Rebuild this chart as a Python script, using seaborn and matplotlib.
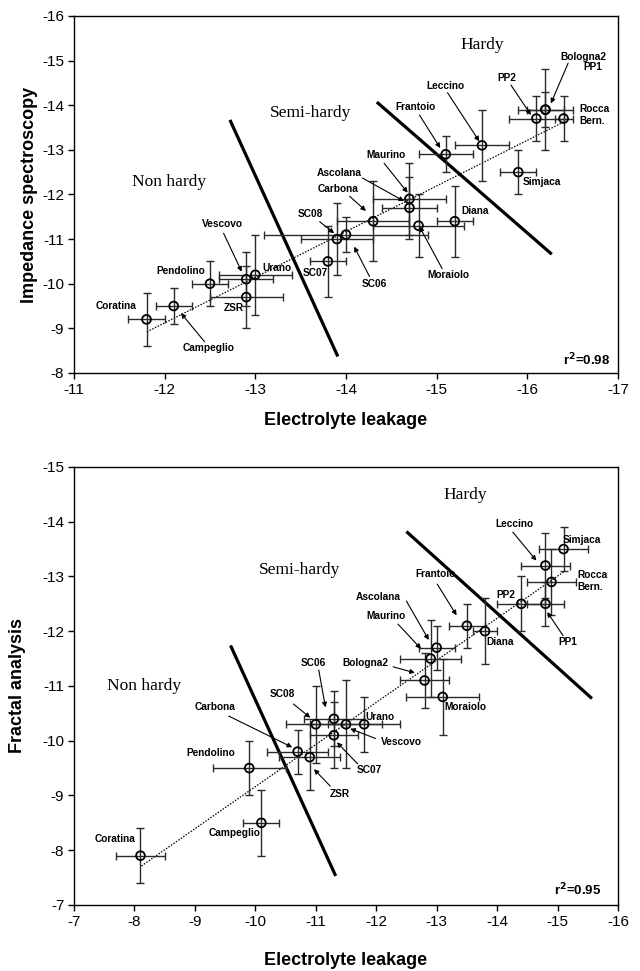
import numpy as np
import pandas as pd
import matplotlib
matplotlib.use("Agg")
import matplotlib.pyplot as plt
import seaborn as sns

# ---------------- data: top panel (Impedance spectroscopy vs electrolyte leakage)
top_names = ["Coratina", "Campeglio", "Pendolino", "Vescovo", "ZSR", "Urano", "SC07", "SC08",
             "SC06", "Carbona", "Ascolana", "Maurino", "Moraiolo", "Diana", "Frantoio",
             "Leccino", "Simjaca", "PP2", "PP1", "Bologna2", "Rocca Bern."]
top_el = [-11.8, -12.1, -12.5, -12.9, -12.9, -13.0, -13.8, -13.9, -14.0, -14.3, -14.7, -14.7,
          -14.8, -15.2, -15.1, -15.5, -15.9, -16.1, -16.2, -16.2, -16.4]
top_is = [-9.2, -9.5, -10.0, -10.1, -9.7, -10.2, -10.5, -11.0, -11.1, -11.4, -11.9, -11.7,
          -11.3, -11.4, -12.9, -13.1, -12.5, -13.7, -13.9, -13.9, -13.7]
top_el_err = [0.2, 0.2, 0.2, 0.3, 0.4, 0.4, 0.2, 0.4, 0.9, 0.4, 0.4, 0.3, 0.5, 0.2, 0.3, 0.3,
              0.2, 0.3, 0.2, 0.3, 0.1]
top_is_err = [0.6, 0.4, 0.5, 0.6, 0.7, 0.9, 0.8, 0.8, 0.4, 0.9, 0.8, 0.7, 0.7, 0.8, 0.4, 0.8,
              0.5, 0.5, 0.9, 0.4, 0.5]
top_r2 = "0.98"

# ---------------- data: bottom panel (Fractal analysis vs electrolyte leakage)
bot_names = ["Coratina", "Campeglio", "Pendolino", "Carbona", "ZSR", "SC08", "SC06", "SC07",
             "Vescovo", "Urano", "Bologna2", "Moraiolo", "Maurino", "Ascolana", "Frantoio",
             "Diana", "PP2", "PP1", "Leccino", "Rocca Bern.", "Simjaca"]
bot_el = [-8.1, -10.1, -9.9, -10.7, -10.9, -11.0, -11.3, -11.3, -11.5, -11.8, -12.8, -13.1,
          -12.9, -13.0, -13.5, -13.8, -14.4, -14.8, -14.8, -14.9, -15.1]
bot_fa = [-7.9, -8.5, -9.5, -9.8, -9.7, -10.3, -10.4, -10.1, -10.3, -10.3, -11.1, -10.8,
          -11.5, -11.7, -12.1, -12.0, -12.5, -12.5, -13.2, -12.9, -13.5]
bot_el_err = [0.4, 0.3, 0.6, 0.5, 0.5, 0.5, 0.5, 0.4, 0.6, 0.6, 0.4, 0.6, 0.5, 0.3, 0.3, 0.2,
              0.4, 0.3, 0.4, 0.4, 0.4]
bot_fa_err = [0.5, 0.6, 0.5, 0.4, 0.6, 0.7, 0.5, 0.6, 0.8, 0.5, 0.5, 0.7, 0.7, 0.4, 0.4, 0.6,
              0.5, 0.4, 0.6, 0.6, 0.4]
bot_r2 = "0.95"

# ---------------- annotations (label position, arrow tail, arrow head)
top_labels = {
    "Bologna2": (-16.62, -15.09), "PP1": (-16.72, -14.86), "PP2": (-15.77, -14.62),
    "Leccino": (-15.10, -14.44), "Frantoio": (-14.77, -13.95), "Simjaca": (-16.16, -12.28),
    "Maurino": (-14.44, -12.88), "Ascolana": (-13.93, -12.49), "Carbona": (-13.91, -12.12),
    "SC08": (-13.61, -11.57), "Diana": (-15.42, -11.63), "Vescovo": (-12.64, -11.33),
    "Urano": (-13.24, -10.36), "Pendolino": (-12.18, -10.29), "SC07": (-13.66, -10.23),
    "SC06": (-14.31, -9.99), "Moraiolo": (-15.13, -10.19), "ZSR": (-12.76, -9.45),
    "Coratina": (-11.46, -9.50), "Campeglio": (-12.48, -8.55),
}
top_rocca = (-16.57, -13.79)
top_arrows = {
    "Bologna2": ((-16.45, -14.94), (-16.26, -14.04)),
    "PP2": ((-15.82, -14.45), (-16.04, -13.78)),
    "Leccino": ((-15.12, -14.28), (-15.47, -13.19)),
    "Frantoio": ((-14.81, -13.78), (-15.04, -13.04)),
    "Maurino": ((-14.42, -12.70), (-14.68, -12.04)),
    "Ascolana": ((-14.18, -12.37), (-14.64, -11.85)),
    "Carbona": ((-14.04, -11.96), (-14.22, -11.63)),
    "SC08": ((-13.71, -11.39), (-13.87, -11.13)),
    "SC06": ((-14.26, -10.16), (-14.09, -10.83)),
    "Moraiolo": ((-15.06, -10.34), (-14.81, -11.28)),
    "Vescovo": ((-12.65, -11.13), (-12.85, -10.27)),
    "Campeglio": ((-12.44, -8.70), (-12.18, -9.34)),
}
top_regions = {"Hardy": (-15.5, -15.35), "Semi-hardy": (-13.61, -13.82), "Non hardy": (-12.05, -12.28)}
top_bounds = [((-12.72, -13.67), (-13.91, -8.37)), ((-14.34, -14.07), (-16.27, -10.66))]
top_r2_pos = (-16.65, -8.29)

bot_labels = {
    "Leccino": (-14.29, -13.95), "Simjaca": (-15.41, -13.67), "PP2": (-14.14, -12.66),
    "PP1": (-15.17, -11.80), "Diana": (-14.05, -11.80), "Frantoio": (-12.98, -13.05),
    "Ascolana": (-12.03, -12.63), "Maurino": (-12.16, -12.27), "Bologna2": (-11.82, -11.42),
    "SC06": (-10.96, -11.42), "SC08": (-10.45, -10.85), "Carbona": (-9.34, -10.61),
    "Urano": (-12.07, -10.44), "Vescovo": (-12.41, -9.97), "SC07": (-11.89, -9.47),
    "ZSR": (-11.40, -9.02), "Pendolino": (-9.26, -9.77), "Campeglio": (-9.65, -8.32),
    "Coratina": (-7.68, -8.20), "Moraiolo": (-13.48, -10.62),
}
bot_rocca = (-15.32, -12.92)
bot_arrows = {
    "Leccino": ((-14.26, -13.81), (-14.65, -13.29)),
    "PP1": ((-15.09, -11.92), (-14.83, -12.35)),
    "Frantoio": ((-13.01, -12.86), (-13.33, -12.29)),
    "Ascolana": ((-12.50, -12.55), (-12.87, -11.84)),
    "Maurino": ((-12.36, -12.13), (-12.74, -11.68)),
    "Bologna2": ((-12.28, -11.35), (-12.64, -11.24)),
    "SC06": ((-11.05, -11.29), (-11.16, -10.61)),
    "SC08": ((-10.63, -10.67), (-10.91, -10.42)),
    "Carbona": ((-9.56, -10.45), (-10.61, -9.88)),
    "Vescovo": ((-11.99, -10.04), (-11.57, -10.22)),
    "SC07": ((-11.69, -9.58), (-11.35, -9.97)),
    "ZSR": ((-11.24, -9.17), (-10.97, -9.48)),
}
bot_regions = {"Hardy": (-13.48, -14.49), "Semi-hardy": (-10.74, -13.11), "Non hardy": (-8.16, -11.0)}
bot_bounds = [((-9.59, -11.74), (-11.33, -7.53)), ((-12.5, -13.82), (-15.57, -10.77))]
bot_r2_pos = (-15.33, -7.28)

# ---------------- style
sns.set_style("ticks")
plt.rcParams["font.family"] = ["Liberation Sans", "DejaVu Sans"]
plt.rcParams["axes.unicode_minus"] = False
plt.rcParams["axes.linewidth"] = 1.0
plt.rcParams["text.color"] = "black"
plt.rcParams["axes.labelcolor"] = "black"
plt.rcParams["axes.edgecolor"] = "black"
plt.rcParams["xtick.color"] = "black"
plt.rcParams["ytick.color"] = "black"
plt.rcParams["xtick.direction"] = "out"
plt.rcParams["ytick.direction"] = "out"

fig = plt.figure(figsize=(6.4, 9.71), dpi=100)
ax1 = fig.add_axes([0.1156, 0.6159, 0.85, 0.3677])
ax2 = fig.add_axes([0.1156, 0.068, 0.85, 0.4511])


def draw_panel(ax, names, x, y, xerr, yerr, labels, rocca, arrows, regions, bounds, r2, r2pos,
               xlim, ylim, ylabel, ylabel_x):
    df = pd.DataFrame({"name": names, "x": x, "y": y, "xerr": xerr, "yerr": yerr})
    # boundary lines
    for (p0, p1) in bounds:
        ax.plot([p0[0], p1[0]], [p0[1], p1[1]], color="black", lw=2.3, solid_capstyle="butt", zorder=2)
    # regression line
    sns.regplot(data=df, x="x", y="y", ax=ax, scatter=False, ci=None, truncate=True,
                line_kws=dict(color="black", ls=(0, (1.2, 1.2)), lw=0.9, zorder=3))
    # error bars
    ax.errorbar(df["x"], df["y"], xerr=df["xerr"], yerr=df["yerr"], fmt="none",
                ecolor="#2a2a2a", elinewidth=1.0, capsize=3, capthick=1.0, zorder=4)
    # points
    sns.scatterplot(data=df, x="x", y="y", ax=ax, marker="o", s=40, facecolor="none",
                    edgecolor="black", linewidth=1.3, zorder=5)
    # labels
    for nm, (tx, ty) in labels.items():
        ax.text(tx, ty, nm, ha="center", va="center", fontsize=7.3, fontweight="bold", zorder=6)
    ax.text(rocca[0], rocca[1], "Rocca\nBern.", ha="left", va="center", fontsize=7.3,
            fontweight="bold", linespacing=1.25, zorder=6)
    for nm, (tail, head) in arrows.items():
        ax.annotate("", xy=head, xytext=tail,
                    arrowprops=dict(arrowstyle="-|>", color="black", lw=0.8,
                                    mutation_scale=7, shrinkA=0, shrinkB=0), zorder=6)
    for nm, (tx, ty) in regions.items():
        ax.text(tx, ty, nm, ha="center", va="center", fontsize=12.5,
                family=["Liberation Serif", "DejaVu Serif"], zorder=6)
    ax.text(r2pos[0], r2pos[1], r"r$^{\mathbf{2}}$=" + r2, ha="center", va="center",
            fontsize=9.5, fontweight="bold", zorder=6)

    ax.set_xlim(*xlim)
    ax.set_ylim(*ylim)
    ax.set_xticks(np.arange(xlim[0], xlim[1] - 0.5, -1))
    ax.set_yticks(np.arange(ylim[0], ylim[1] - 0.5, -1))
    ax.set_xticklabels([f"-{abs(int(v))}" for v in ax.get_xticks()])
    ax.set_yticklabels([f"-{abs(int(v))}" for v in ax.get_yticks()])
    ax.tick_params(axis="both", labelsize=11, length=4, width=1.0, pad=3, colors="black")
    for sp in ax.spines.values():
        sp.set_visible(True)
        sp.set_color("black")
        sp.set_linewidth(1.0)
    ax.set_xlabel("Electrolyte leakage", fontsize=13, fontweight="bold", color="black")
    ax.set_ylabel(ylabel, fontsize=13, fontweight="bold", color="black")
    ax.xaxis.set_label_coords(0.5, -0.108)
    ax.yaxis.set_label_coords(ylabel_x, 0.5)


draw_panel(ax1, top_names, top_el, top_is, top_el_err, top_is_err, top_labels, top_rocca,
           top_arrows, top_regions, top_bounds, top_r2, top_r2_pos,
           (-11, -17), (-8, -16), "Impedance spectroscopy", -0.066)
draw_panel(ax2, bot_names, bot_el, bot_fa, bot_el_err, bot_fa_err, bot_labels, bot_rocca,
           bot_arrows, bot_regions, bot_bounds, bot_r2, bot_r2_pos,
           (-7, -16), (-7, -15), "Fractal analysis", -0.088)

fig.savefig("out.png", dpi=100)
